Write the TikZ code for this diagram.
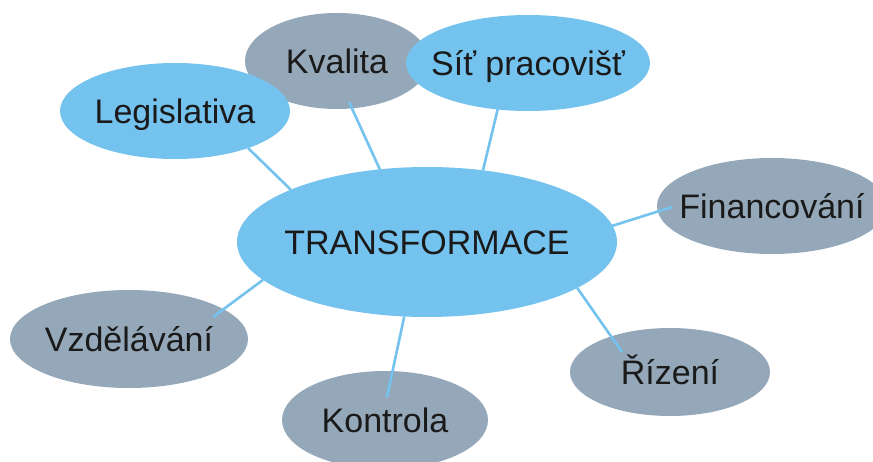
\documentclass[tikz,border=0pt]{standalone}
\usepackage{fontspec}
\setmainfont{Liberation Sans}
\usetikzlibrary{shapes.geometric}
\pgfdeclarelayer{bg}
\pgfdeclarelayer{mid}
\pgfsetlayers{bg,mid,main}
\definecolor{bblue}{HTML}{74C2EE}
\definecolor{bgray}{HTML}{94A8B9}
\definecolor{ink}{HTML}{1A1A1A}
\begin{document}
\begin{tikzpicture}[x=1pt,y=-1pt,
  txt/.style={text=ink,font=\fontsize{34}{40}\selectfont,text height=24.3pt,text depth=0pt,inner sep=0pt},
  bub/.style={ellipse,draw=none,inner sep=0pt,outer sep=0pt},
  bluebub/.style={bub,fill=bblue},
  graybub/.style={bub,fill=bgray},
  conn/.style={draw=bblue,line width=2.6pt}]
\useasboundingbox (0,0) rectangle (873,462);
\begin{pgfonlayer}{bg}
  \fill[white] (0,0) rectangle (873,462);
  \node[graybub,minimum width=184pt,minimum height=96pt,label={[txt]center:Kvalita}] (kval) at (337,61) {};
  \node[graybub,minimum width=230pt,minimum height=96pt,label={[txt]center:Financování}] (fin) at (772,206) {};
  \node[graybub,minimum width=200pt,minimum height=88pt,label={[txt]center:Řízení}] (riz) at (670,372) {};
  \node[graybub,minimum width=206pt,minimum height=98pt,label={[txt]center:Kontrola}] (kont) at (385,420) {};
  \node[graybub,minimum width=238pt,minimum height=98pt,label={[txt]center:Vzdělávání}] (vzd) at (129,339) {};
\end{pgfonlayer}
\node[bluebub,minimum width=230pt,minimum height=96pt,label={[txt]center:Legislativa}] (leg) at (175,111) {};
\node[bluebub,minimum width=244pt,minimum height=96pt,label={[txt]center:Síť pracovišť}] (sit) at (528,63) {};
\node[bluebub,minimum width=380pt,minimum height=150pt,label={[txt]center:TRANSFORMACE}] (c) at (427,242) {};
\coordinate (eleg) at (248,148);
\coordinate (ekval) at (349,102);
\coordinate (esit) at (498,108);
\coordinate (efin) at (672,207);
\coordinate (eriz) at (622,352);
\coordinate (ekont) at (387,397);
\coordinate (evzd) at (213,317);
\begin{pgfonlayer}{mid}
  \draw[conn] (c.159.6) -- (eleg);
  \draw[conn] (c.123.2) -- (ekval);
  \draw[conn] (c.52.3) -- (esit);
  \draw[conn] (c.5.2) -- (efin);
  \draw[conn] (c.-17.1) -- (eriz);
  \draw[conn] (c.-107.7) -- (ekont);
  \draw[conn] (c.-167.6) -- (evzd);
\end{pgfonlayer}
\end{tikzpicture}
\end{document}
